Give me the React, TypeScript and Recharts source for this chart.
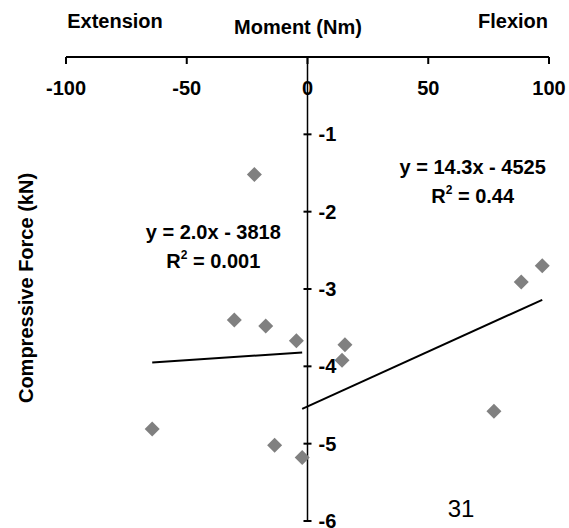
import React from "react"
import { ScatterChart, Scatter, XAxis, YAxis, ReferenceLine, ReferenceDot } from "recharts"

// moment (Nm) vs compressive force (kN)
const moments = [-22.0, -30.3, -17.3, -4.6, -64.3, -13.6, -2.2, 15.5, 14.3, 77.2, 88.5, 97.2]
const forces = [-1.52, -3.4, -3.48, -3.67, -4.81, -5.02, -5.18, -3.72, -3.92, -4.58, -2.91, -2.7]

const xTicks = [-100, -50, 0, 50, 100]
const yTicks = [-1, -2, -3, -4, -5, -6]

// trend line end points
const extensionFit = [
  { x: -64.3, y: -3.95 },
  { x: -2.2, y: -3.82 },
]
const flexionFit = [
  { x: -2.2, y: -4.55 },
  { x: 97.2, y: -3.14 },
]

const equations = [
  { x: -39.0, y: -2.26, eq: "y = 2.0x - 3818", r2: "0.001" },
  { x: 68.4, y: -1.42, eq: "y = 14.3x - 4525", r2: "0.44" },
]

const points = moments.map((m, i) => ({ x: m, y: forces[i] }))

const FONT = "'Liberation Sans', Arial, sans-serif"

const Diamond = (props: any) => {
  const { cx, cy } = props
  const r = 7.5
  return <polygon points={`${cx},${cy - r} ${cx + r},${cy} ${cx},${cy + r} ${cx - r},${cy}`} fill="#808080" />
}

// x ticks hang below the top axis line
const XTickMark = (value: number) => (props: any) => {
  const { cx, cy } = props
  return (
    <g>
      <rect x={cx - 1} y={cy} width={2} height={7} fill="#000" />
      <text x={cx} y={cy + 38} textAnchor="middle" fontFamily={FONT} fontWeight="bold" fontSize={20} fill="#000">
        {value}
      </text>
    </g>
  )
}

// y ticks cross the vertical axis at x = 0, labels to its right
const YTickMark = (value: number) => (props: any) => {
  const { cx, cy } = props
  return (
    <g>
      <rect x={cx - 4} y={cy - 1} width={8} height={2} fill="#000" />
      <text x={cx + 11} y={cy + 7} fontFamily={FONT} fontWeight="bold" fontSize={20} fill="#000">
        {value}
      </text>
    </g>
  )
}

const EqLabel = (eq: string, r2: string) => (props: any) => {
  const { cx, cy } = props
  return (
    <g fontFamily={FONT} fontWeight="bold" fontSize={20} fill="#000">
      <text x={cx} y={cy + 7} textAnchor="middle">{eq}</text>
      <text x={cx} y={cy + 36} textAnchor="middle">
        R<tspan fontSize={12} dy={-9}>2</tspan>
        <tspan dy={9}> = {r2}</tspan>
      </text>
    </g>
  )
}

const title: React.CSSProperties = {
  position: "absolute",
  fontFamily: FONT,
  fontWeight: "bold",
  fontSize: 20,
  lineHeight: "20px",
  whiteSpace: "nowrap",
  transform: "translate(-50%, -50%)",
}

export default function App() {
  return (
    <div style={{ position: "absolute", left: 0, top: 0, width: 569, height: 528, background: "#fff" }}>
      <ScatterChart width={569} height={528} margin={{ top: 57, right: 20, bottom: 7, left: 66 }}>
        <XAxis type="number" dataKey="x" domain={[-100, 100]} hide />
        <YAxis type="number" dataKey="y" domain={[-6, 0]} hide />
        <ReferenceLine y={0} stroke="#000" strokeWidth={2} ifOverflow="visible" />
        <ReferenceLine x={0} stroke="#000" strokeWidth={1.5} ifOverflow="visible" />
        {xTicks.map((t) => (
          <ReferenceDot key={"x" + t} x={t} y={0} ifOverflow="visible" shape={XTickMark(t)} />
        ))}
        {yTicks.map((t) => (
          <ReferenceDot key={"y" + t} x={0} y={t} ifOverflow="visible" shape={YTickMark(t)} />
        ))}
        <ReferenceLine segment={extensionFit} stroke="#000" strokeWidth={2} ifOverflow="visible" />
        <ReferenceLine segment={flexionFit} stroke="#000" strokeWidth={2} ifOverflow="visible" />
        <Scatter data={points} shape={<Diamond />} isAnimationActive={false} />
        {equations.map((e) => (
          <ReferenceDot key={e.eq} x={e.x} y={e.y} ifOverflow="visible" shape={EqLabel(e.eq, e.r2)} />
        ))}
      </ScatterChart>
      <div style={{ ...title, left: 115, top: 21 }}>Extension</div>
      <div style={{ ...title, left: 298, top: 27 }}>Moment (Nm)</div>
      <div style={{ ...title, left: 513, top: 21 }}>Flexion</div>
      <div style={{ ...title, left: 26, top: 288, transform: "translate(-50%, -50%) rotate(-90deg)" }}>
        Compressive Force (kN)
      </div>
      <div style={{ ...title, fontWeight: "normal", fontSize: 24, lineHeight: "24px", left: 461, top: 509 }}>31</div>
    </div>
  )
}
